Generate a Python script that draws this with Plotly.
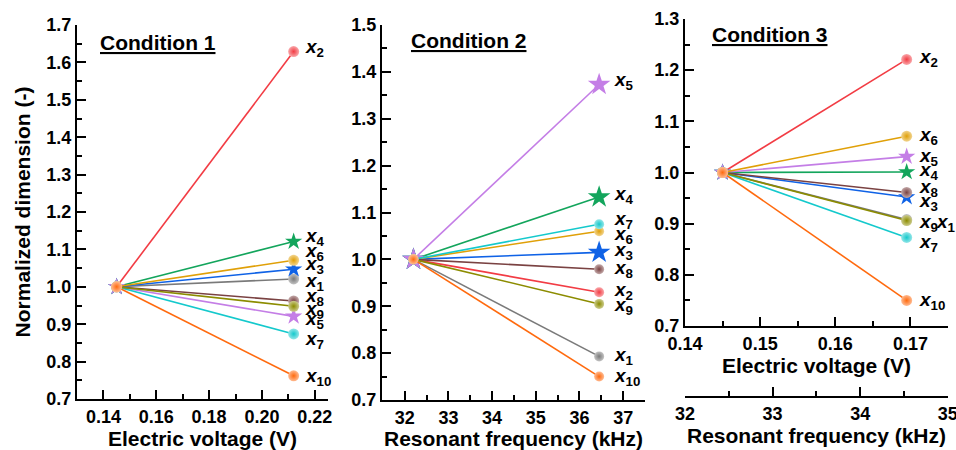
import plotly.graph_objects as go

# ---------------- data ----------------
series = ["1", "2", "3", "4", "5", "6", "7", "8", "9", "10"]
start_value = 1.0

cond1_x = [0.145, 0.212]          # electric voltage (V)
cond1_end = [1.021, 1.629, 1.047, 1.121, 0.921, 1.071, 0.874, 0.962, 0.948, 0.762]

cond2_x = [32.2, 36.45]           # resonant frequency (kHz)
cond2_end = [0.793, 0.930, 1.015, 1.133, 1.373, 1.060, 1.075, 0.979, 0.905, 0.750]

cond3_x = [0.145, 0.1695]         # electric voltage (V)
cond3_end = [0.908, 1.221, 0.952, 1.001, 1.031, 1.071, 0.873, 0.961, 0.906, 0.750]

freq_ticks = [32, 33, 34, 35]     # secondary frequency axis of condition 3

titles = ["Condition 1", "Condition 2", "Condition 3"]

# ---------------- styles ----------------
colors = ["#7a7a7a", "#f23c44", "#0f62e6", "#13a55c", "#c47ee6",
          "#e0a008", "#14c9cc", "#7a4242", "#8c8c00", "#ff6a0e"]
symbols = ["circle", "circle", "star", "star", "star",
           "circle", "circle", "circle", "circle", "circle"]

# label y positions (layout only)
lab1 = [1.014, 1.639, 1.059, 1.133, 0.910, 1.093, 0.858, 0.974, 0.938, 0.760]
lab2 = [0.793, 0.933, 1.017, 1.138, 1.380, 1.053, 1.085, 0.979, 0.900, 0.750]
lab3 = [0.902, 1.223, 0.943, 1.002, 1.031, 1.072, 0.862, 0.969, 0.902, 0.748]

FONT = "Liberation Sans, Arial, sans-serif"
W, H = 956, 450


def px_x(p):
    return p / W


def px_y(p):
    return 1 - p / H


def tint(hexcol, f=0.55):
    h = hexcol.lstrip("#")
    r, g, b = (int(h[i:i + 2], 16) for i in (0, 2, 4))
    r, g, b = (int(c + (255 - c) * f) for c in (r, g, b))
    return f"#{r:02x}{g:02x}{b:02x}"


fig = go.Figure()

panels = [
    (cond1_x, cond1_end, "x", "y", lab1, 0.2155),
    (cond2_x, cond2_end, "x2", "y2", lab2, 36.75),
    (cond3_x, cond3_end, "x3", "y3", lab3, 0.1709),
]

for pi, (xs, ends, xa, ya, labs, labx) in enumerate(panels):
    for i, name in enumerate(series):
        is_star = symbols[i] == "star"
        if pi == 1:
            size = (17 if is_star else 10)
        else:
            size = (13 if is_star else 11)
        if is_star:
            marker = dict(symbol="star", size=size, color=colors[i], line=dict(width=0))
        else:
            marker = dict(symbol="circle", size=size, color=tint(colors[i]),
                          line=dict(width=0),
                          gradient=dict(type="radial", color=colors[i]))
        fig.add_trace(go.Scatter(
            x=xs, y=[start_value, ends[i]], xaxis=xa, yaxis=ya,
            mode="lines+markers",
            line=dict(color=colors[i], width=1.6),
            marker=marker,
            showlegend=False, hoverinfo="skip",
        ))
    for i, name in enumerate(series):
        lx = labx
        ly = labs[i]
        if pi == 2 and name == "1":
            lx = 0.1732
            ly = lab3[8]
        fig.add_annotation(
            x=lx, y=ly, xref=xa, yref=ya, xanchor="left", yanchor="middle",
            text=f"<b><i>x</i><sub>{name}</sub></b>", showarrow=False,
            font=dict(family=FONT, size=19, color="black"),
        )

# invisible trace for the secondary frequency axis in panel 3
fig.add_trace(go.Scatter(x=[freq_ticks[0], freq_ticks[-1]], y=[None, None],
                         xaxis="x4", yaxis="y3",
                         mode="markers", showlegend=False, hoverinfo="skip"))

tickfont = dict(family=FONT, size=18, color="black", weight="bold")
titlefont = dict(family=FONT, size=21, color="black", weight="bold")


def xaxis(domain, rng, dtick, fmt, title, standoff, anchor, minor):
    return dict(domain=domain, range=rng, dtick=dtick, tick0=0, tickformat=fmt,
                showline=True, linecolor="black", linewidth=2, mirror=False,
                ticks="inside", ticklen=9, tickwidth=2, tickcolor="black",
                minor=dict(ticks="inside", ticklen=5, tickwidth=2, tickcolor="black", dtick=minor),
                showgrid=False, zeroline=False, tickfont=tickfont,
                title=dict(text=title, font=titlefont, standoff=standoff),
                anchor=anchor, fixedrange=True, automargin=False)


def yaxis(domain, rng, anchor, title=None):
    d = dict(domain=domain, range=rng, dtick=0.1, tick0=0, tickformat=".1f",
             showline=True, linecolor="black", linewidth=2, mirror=False,
             ticks="inside", ticklen=9, tickwidth=2, tickcolor="black",
             minor=dict(ticks="inside", ticklen=5, tickwidth=2, tickcolor="black", dtick=0.05),
             showgrid=False, zeroline=False, tickfont=tickfont, anchor=anchor,
             fixedrange=True, automargin=False)
    if title:
        d["title"] = dict(text=title, font=titlefont, standoff=10)
    return d


fig.update_layout(
    width=W, height=H,
    margin=dict(l=0, r=0, t=0, b=0),
    paper_bgcolor="white", plot_bgcolor="white",
    showlegend=False,
    xaxis=xaxis([px_x(77), px_x(328)], [0.13, 0.225], 0.02, ".2f",
                "Electric voltage (V)", 4, "y", 0.01),
    yaxis=yaxis([px_y(399), px_y(25)], [0.7, 1.7], "x", "Normalized dimension (-)"),
    xaxis2=xaxis([px_x(382), px_x(645)], [31.48, 37.5], 1, "d",
                 "Resonant frequency (kHz)", 4, "y2", 0.5),
    yaxis2=yaxis([px_y(400), px_y(25)], [0.7, 1.5], "x2"),
    xaxis3=xaxis([px_x(685), px_x(948)], [0.14, 0.175], 0.01, ".2f",
                 "Electric voltage (V)", 4, "y3", 0.005),
    yaxis3=yaxis([px_y(326), px_y(19)], [0.7, 1.3], "x3"),
    xaxis4=dict(overlaying="x3", anchor="free", position=px_y(397), side="bottom",
                range=[freq_ticks[0], freq_ticks[-1] + 0.002],
                tickmode="array", tickvals=freq_ticks, ticktext=[str(v) for v in freq_ticks],
                ticklabeloverflow="allow",
                showline=True, linecolor="black", linewidth=2,
                ticks="inside", ticklen=9, tickwidth=2, tickcolor="black",
                minor=dict(ticks="inside", ticklen=5, tickwidth=2, tickcolor="black",
                           tickmode="linear", tick0=0, dtick=0.5),
                showgrid=False, zeroline=False, tickfont=tickfont,
                title=dict(text="Resonant frequency (kHz)", font=titlefont, standoff=4),
                fixedrange=True, automargin=False),
)

# panel titles
title_pos = [(px_x(158), px_y(42)), (px_x(468), px_y(40)), (px_x(769), px_y(34))]
for t, (tx, ty) in zip(titles, title_pos):
    fig.add_annotation(x=tx, y=ty, xref="paper", yref="paper", xanchor="center",
                       yanchor="middle", showarrow=False,
                       text=f"<b><u>{t}</u></b>",
                       font=dict(family=FONT, size=21, color="black"))

fig.write_html("out.html", config={"displayModeBar": False},
               post_script="document.body.style.margin='0px';")
